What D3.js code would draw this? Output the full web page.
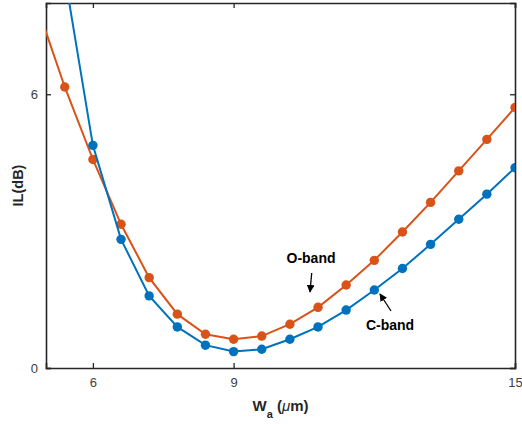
<!DOCTYPE html>
<html><head><meta charset="utf-8">
<script src="https://cdn.jsdelivr.net/npm/d3@7"></script>
<style>body{margin:0;background:#fff}svg{display:block}text{font-family:"Liberation Sans",Arial,sans-serif}</style>
</head><body>
<script>
const widths = [4.8, 5.4, 6.0, 6.6, 7.2, 7.8, 8.4, 9.0, 9.6, 10.2, 10.8, 11.4, 12.0, 12.6, 13.2, 13.8, 14.4, 15.0];
const oBand = [7.96, 6.16, 4.57, 3.15, 1.98, 1.18, 0.74, 0.63, 0.70, 0.96, 1.33, 1.82, 2.36, 2.98, 3.63, 4.32, 5.01, 5.71];
const cBand = [null, 8.6, 4.88, 2.82, 1.58, 0.90, 0.50, 0.36, 0.41, 0.63, 0.90, 1.27, 1.71, 2.18, 2.71, 3.26, 3.81, 4.39];
const xTicks = [6, 9, 15];
const yTicks = [0, 6];
const xDomain = [5, 15];
const yDomain = [0, 8];

const W = 522, H = 424;
const m = {l: 46, r: 7, t: 3, b: 56};
const svg = d3.select("body").append("svg").attr("width", W).attr("height", H);
const x = d3.scaleLinear().domain(xDomain).range([m.l, W - m.r]);
const y = d3.scaleLinear().domain(yDomain).range([H - m.b, m.t]);

svg.append("defs").append("clipPath").attr("id", "clip")
  .append("rect").attr("x", m.l).attr("y", m.t).attr("width", W - m.r - m.l).attr("height", H - m.b - m.t);

const axisColor = "#262626";
const tickLen = 5;
const gx = svg.append("g").attr("transform", `translate(0,${H - m.b})`)
  .call(d3.axisBottom(x).tickValues(xTicks).tickSize(-tickLen).tickPadding(10).tickFormat(d3.format("d")));
const gxt = svg.append("g").attr("transform", `translate(0,${m.t})`)
  .call(d3.axisTop(x).tickValues(xTicks).tickSize(-tickLen).tickFormat(""));
const gy = svg.append("g").attr("transform", `translate(${m.l},0)`)
  .call(d3.axisLeft(y).tickValues(yTicks).tickSize(-tickLen).tickPadding(8).tickFormat(d3.format("d")));
const gyr = svg.append("g").attr("transform", `translate(${W - m.r},0)`)
  .call(d3.axisRight(y).tickValues(yTicks).tickSize(-tickLen).tickFormat(""));
[gx, gxt, gy, gyr].forEach(g => {
  g.select(".domain").attr("stroke", axisColor).attr("stroke-width", 1.6);
  g.selectAll(".tick line").attr("stroke", axisColor).attr("stroke-width", 1.3);
  g.selectAll(".tick text").attr("fill", "#404040").style("font-size", "13px").style("font-family", '"Liberation Sans",Arial,sans-serif');
});

const series = [
  {vals: oBand, color: "#D95319"},
  {vals: cBand, color: "#0072BD"}
];
const plot = svg.append("g").attr("clip-path", "url(#clip)");
series.forEach(s => {
  const pts = widths.map((w, i) => [w, s.vals[i]]).filter(p => p[1] != null);
  plot.append("path").datum(pts)
    .attr("fill", "none").attr("stroke", s.color).attr("stroke-width", 2)
    .attr("d", d3.line().x(d => x(d[0])).y(d => y(d[1])));
  plot.selectAll(null).data(pts).join("circle")
    .attr("cx", d => x(d[0])).attr("cy", d => y(d[1])).attr("r", 4.7).attr("fill", s.color);
});

const xl = svg.append("text").attr("x", (m.l + W - m.r) / 2).attr("y", 411)
  .attr("text-anchor", "middle").attr("fill", axisColor).style("font-size", "15px").style("font-weight", "bold");
xl.append("tspan").text("W");
xl.append("tspan").attr("dy", 7).style("font-size", "11px").text("a");
xl.append("tspan").attr("dy", -7).text(" (");
xl.append("tspan").style("font-style", "italic").style("font-weight", "normal").text("μ");
xl.append("tspan").text("m)");

svg.append("text").attr("transform", `translate(23,${(m.t + H - m.b) / 2}) rotate(-90)`)
  .attr("text-anchor", "middle").attr("fill", axisColor).style("font-size", "14.5px").style("font-weight", "bold")
  .text("IL(dB)");

svg.append("defs").append("marker").attr("id", "ah").attr("viewBox", "0 0 10 10")
  .attr("refX", 9).attr("refY", 5).attr("markerWidth", 6).attr("markerHeight", 6).attr("orient", "auto")
  .append("path").attr("d", "M0,0 L10,5 L0,10 z").attr("fill", "#000");

svg.append("text").attr("x", 311).attr("y", 263).attr("text-anchor", "middle").attr("fill", "#000")
  .style("font-size", "14px").style("font-weight", "bold").text("O-band");
svg.append("line").attr("x1", 311.7).attr("y1", 273).attr("x2", 310).attr("y2", 292)
  .attr("stroke", "#000").attr("stroke-width", 1.3).attr("marker-end", "url(#ah)");

svg.append("text").attr("x", 390).attr("y", 330).attr("text-anchor", "middle").attr("fill", "#000")
  .style("font-size", "14px").style("font-weight", "bold").text("C-band");
svg.append("line").attr("x1", 391).attr("y1", 311).attr("x2", 380).attr("y2", 294)
  .attr("stroke", "#000").attr("stroke-width", 1.3).attr("marker-end", "url(#ah)");
</script>
</body></html>
